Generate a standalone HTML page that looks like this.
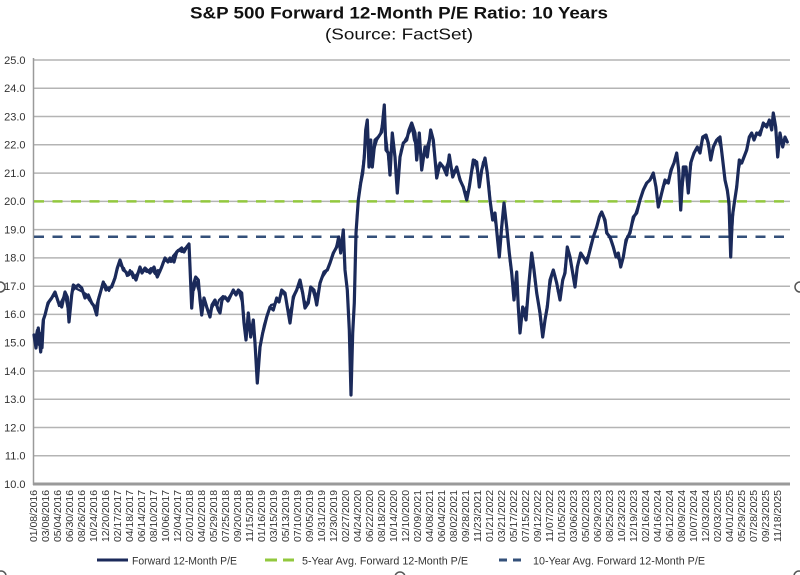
<!DOCTYPE html>
<html>
<head>
<meta charset="utf-8">
<style>
  html, body { margin: 0; padding: 0; background: #ffffff; }
  body { width: 800px; height: 575px; overflow: hidden; }
  svg { display: block; font-family: "Liberation Sans", Arial, sans-serif; }
</style>
</head>
<body>
<svg width="800" height="575" viewBox="0 0 800 575" xmlns="http://www.w3.org/2000/svg">
  <rect x="0" y="0" width="800" height="575" fill="#ffffff"/>

  <!-- Title -->
  <text x="190" y="18.3" font-size="17" font-weight="bold" fill="#111" textLength="418" lengthAdjust="spacingAndGlyphs">S&amp;P 500 Forward 12-Month P/E Ratio: 10 Years</text>
  <text x="325" y="39.5" font-size="16" fill="#111" textLength="148" lengthAdjust="spacingAndGlyphs">(Source: FactSet)</text>

  <!-- Gridlines -->
  <g stroke="#b4b4b4" stroke-width="1.5">
    <line x1="33" y1="60" x2="790" y2="60"/>
    <line x1="33" y1="88.3" x2="790" y2="88.3"/>
    <line x1="33" y1="116.5" x2="790" y2="116.5"/>
    <line x1="33" y1="144.8" x2="790" y2="144.8"/>
    <line x1="33" y1="173.1" x2="790" y2="173.1"/>
    <line x1="33" y1="201.4" x2="790" y2="201.4"/>
    <line x1="33" y1="229.6" x2="790" y2="229.6"/>
    <line x1="33" y1="257.9" x2="790" y2="257.9"/>
    <line x1="33" y1="286.2" x2="790" y2="286.2"/>
    <line x1="33" y1="314.4" x2="790" y2="314.4"/>
    <line x1="33" y1="342.7" x2="790" y2="342.7"/>
    <line x1="33" y1="371" x2="790" y2="371"/>
    <line x1="33" y1="399.2" x2="790" y2="399.2"/>
    <line x1="33" y1="427.5" x2="790" y2="427.5"/>
    <line x1="33" y1="455.8" x2="790" y2="455.8"/>
  </g>
  <!-- Axes -->
  <line x1="33.5" y1="58" x2="33.5" y2="485" stroke="#9a9a9a" stroke-width="1.5"/>
  <line x1="33" y1="484" x2="790" y2="484" stroke="#9a9a9a" stroke-width="3"/>

  <!-- Y labels -->
  <g font-size="11" fill="#333" text-anchor="end">
    <text x="25.5" y="63.8">25.0</text>
    <text x="25.5" y="92.1">24.0</text>
    <text x="25.5" y="120.3">23.0</text>
    <text x="25.5" y="148.6">22.0</text>
    <text x="25.5" y="176.9">21.0</text>
    <text x="25.5" y="205.2">20.0</text>
    <text x="25.5" y="233.4">19.0</text>
    <text x="25.5" y="261.7">18.0</text>
    <text x="25.5" y="290">17.0</text>
    <text x="25.5" y="318.2">16.0</text>
    <text x="25.5" y="346.5">15.0</text>
    <text x="25.5" y="374.8">14.0</text>
    <text x="25.5" y="403">13.0</text>
    <text x="25.5" y="431.3">12.0</text>
    <text x="25.5" y="459.6">11.0</text>
    <text x="25.5" y="487.8">10.0</text>
  </g>

  <!-- Average lines -->
  <line x1="34" y1="201.4" x2="790" y2="201.4" stroke="#92c83e" stroke-width="2.5" stroke-dasharray="10 8.5"/>
  <line x1="34" y1="236.7" x2="790" y2="236.7" stroke="#34507a" stroke-width="2.5" stroke-dasharray="10 8.5"/>

  <!-- Series -->
  <g fill="none" stroke="#1b2a5a" stroke-linejoin="round" stroke-linecap="round">
  <polyline stroke-width="3.2" points="
34,335 36,348 38.3,328 40.7,352 43.3,320 45,315 48,303 51.7,298 55,292 58.3,302 61.7,307 65,292 67.3,297 69,322 71.7,295 73.3,285 76,287 78.3,285 81.7,288 85,298 88.3,295 91.7,303 94,306 96.7,315 98.3,300 103.3,282 106,290 108.3,288 111.7,287 115,278 117.3,268 120,260 123.3,270 126,272 128.3,275 131.7,272 136,280 140,267 142,273 145,268 150,273 154,267 157.3,277 161.7,267 165,258 168,262 170,258 174,262 176.7,252 181.7,248 184,252 186.7,247 189,244 190,267 191.7,308 193.3,285 195.7,277 198.3,280 200,300 201.7,315 204,298 206.7,307 210,317 212,305 215,300 218.3,310
220,313 222,300 225,297 228,301 230,297 233.3,290 236,295 238.3,290 241.7,293 244,323 246,340 248.3,313 250.7,337 253.3,320 255,343 257.3,383 260,347 262.7,333 266.7,317 270,307 273.3,310 276.7,298 279,302 281.7,290 285,293 287.3,307 290,323 293.3,297 296.7,290 300,280 302.7,293 305,308 308.3,303 310.7,287 314,290 316.7,305 320,283 324,272 327.3,270 330,263 333.3,253 336.7,247 338.7,237 340.7,253 343.3,230 345,270 347.3,290 349.3,330 351,395 352.7,333 354.3,303 356,233 358.3,200 360.7,183 362.7,173 364.3,157 365.7,130 367.3,120 369,167 370.7,140 372.3,167 375,140 378.3,137 381.7,132 384.3,105 386,150 388.3,153 390,175 392.3,133 395,157 397.3,193 400,157 403.3,143 406.7,140 409,130 411.7,123 415,133 416.7,160 419.3,133
421.7,170 425,147 427.3,157 430.7,130 433.3,140 436.7,178 440,163 443.3,167 446.7,175 449.3,155 452.7,177 456.7,167 460,180 463.3,187 466.7,200 469.3,187 473.3,160 476.7,162 479.3,187 481.7,170 485,158 487.3,173 490,200 492.7,220 495,213 497.3,237 499.3,257 501.7,227 504,203 506.7,227 509.3,253 511.7,273 514,300 516.7,272 518.3,307 520,333 522.7,307 526,320 528.3,290 531.7,253 534,270 536.7,293 540,313 542.7,337 545,320 547.3,307 550,280 553.3,270 556.7,283 560,300 562.7,280 565,273 567.3,247 570,257 572.7,273 575,287 577.3,267 580.7,253 583.3,257 586.7,263 590,250 593.3,237 596.7,227 599.3,217 601.7,212 605,220
606.7,233 610,237 613.3,247 616,257 618.3,253 620.7,267 623.3,257 626,240 630,233 633.3,217 636.7,213 640,200 643.3,190 646.7,183 650,180 653.3,173 656,187 658.3,207 661.7,193 665,180 668.3,183 671,170 674,163 676.7,153 678.7,170 680.7,210 683.3,167 686,167 688.3,193 690.7,163 694,153 697.3,147 700,153 702.7,137 706,135 708.3,143 710.7,160 713.3,147 716.7,140 720,137 722.7,160 725,180 727.3,190 729,203 730.7,257 732.3,217 734.3,203 736.7,187 739.3,160 741.7,163 744,157 746.7,150 749.3,137 751.7,133 754,140 756.7,133 760,135 763.3,123 766.7,127 769.3,120 771.7,130 773.3,113 775.7,127 777.7,157 780,133 782.7,147 785,137 787.3,142"/>
  <!-- secondary jitter traces for thickness/noise -->
  <polyline stroke-width="2.2" points="
35,340 37,330 39,345 41,333 42.5,348 44,318 47,308 50,300 53,296 56,296 59,306 62,300 64,296 66,300 68,310 70,305 72,292 75,288 79,290 83,292 86,294 89,300 93,305 95,310 99,296 102,288 105,284 109,291 113,282 116,274 119,264 121,266 124,268 127,276 130,270 133,278 137,274 139,270 143,270 147,272 151,268 155,274 158,270 160,272 163,262 167,260 171,262 173,256 178,250 182,252 185,248 188,246"/>
  <polyline stroke-width="2.2" points="
194,290 196,282 199,292 202,305 205,302 208,312 211,310 214,304 217,306 219,300
223,296 227,300 231,294 235,292 239,292 243,305 245,330 247,325 249,330 252,330 254,332 256,360 258,370 261,340 264,325 268,312 271,305 275,304 278,300 283,292 286,298 289,315 292,305 295,294 298,286 301,288 304,300 307,305 309,295 312,288 315,298 318,292 322,278 326,272 329,266 332,258 335,250 337,244 339,245 342,240 344,250"/>
  <polyline stroke-width="2.2" points="
355,260 357,215 359,192 361,178 363,165 365,145 366.5,128 368,145 371,150 374,150 377,140 380,135 383,120 385,128 387,145 389,165 391,150 393,140 396,170 398,180 401,150 405,140 408,135 412,128 414,140 417,148 418,140
420,150 423,160 426,150 429,140 432,134 435,160 438,170 441,165 445,170 448,162 451,168 454,172 458,172 462,184 465,192 468,192 471,175 475,160 478,175 480,180 483,162 486,165 489,185 491,210 494,218 496,225 498,245 500,240 503,212 505,215 508,240 510,262 513,285 515,285 517,290 519,320 521,320 524,312 527,305 530,270 533,262 535,282 538,300 541,325 544,328 546,312 549,292 552,275 555,275 558,292 561,290 564,276 566,260 569,252 571,265 574,280 576,276 579,260 582,255 585,260 588,256 591,244 595,232 598,222 600,214 603,216
608,235 612,242 615,252 617,256 619,260 622,262 625,248 628,236 632,225 635,215 638,206 642,195 645,186 648,182 652,176 655,180 657,198 660,200 663,186 667,182 670,176 673,166 675,158 677.7,160 679.7,190 682,190 685,167 687,180 689.5,178 692,158 696,150 699,150 701,145 704,136 707,140 709.5,152 712,154 715,143 718,138 721,148 724,170 726,185 728,196 730,230 731.5,240 733.5,210 735.5,195 738,172 740.5,162 743,160 745.5,153 748,143 750.5,135 753,137 755.5,136 758,134 762,128 765,125 768,123 770.5,125 772.5,120 774.5,120 776.7,142 779,145 781.5,140 784,142 786.5,140"/>
  </g>

  <!-- X labels -->
  <g font-size="10" fill="#333" text-anchor="end">
    <text transform="translate(37.2,490) rotate(-90)" textLength="52" lengthAdjust="spacingAndGlyphs">01/08/2016</text>
    <text transform="translate(49.2,490) rotate(-90)" textLength="52" lengthAdjust="spacingAndGlyphs">03/08/2016</text>
    <text transform="translate(61.2,490) rotate(-90)" textLength="52" lengthAdjust="spacingAndGlyphs">05/04/2016</text>
    <text transform="translate(73.2,490) rotate(-90)" textLength="52" lengthAdjust="spacingAndGlyphs">06/30/2016</text>
    <text transform="translate(85.2,490) rotate(-90)" textLength="52" lengthAdjust="spacingAndGlyphs">08/26/2016</text>
    <text transform="translate(97.2,490) rotate(-90)" textLength="52" lengthAdjust="spacingAndGlyphs">10/24/2016</text>
    <text transform="translate(109.2,490) rotate(-90)" textLength="52" lengthAdjust="spacingAndGlyphs">12/20/2016</text>
    <text transform="translate(121.2,490) rotate(-90)" textLength="52" lengthAdjust="spacingAndGlyphs">02/17/2017</text>
    <text transform="translate(133.2,490) rotate(-90)" textLength="52" lengthAdjust="spacingAndGlyphs">04/18/2017</text>
    <text transform="translate(145.2,490) rotate(-90)" textLength="52" lengthAdjust="spacingAndGlyphs">06/14/2017</text>
    <text transform="translate(157.2,490) rotate(-90)" textLength="52" lengthAdjust="spacingAndGlyphs">08/10/2017</text>
    <text transform="translate(169.2,490) rotate(-90)" textLength="52" lengthAdjust="spacingAndGlyphs">10/06/2017</text>
    <text transform="translate(181.2,490) rotate(-90)" textLength="52" lengthAdjust="spacingAndGlyphs">12/04/2017</text>
    <text transform="translate(193.2,490) rotate(-90)" textLength="52" lengthAdjust="spacingAndGlyphs">02/01/2018</text>
    <text transform="translate(205.2,490) rotate(-90)" textLength="52" lengthAdjust="spacingAndGlyphs">04/02/2018</text>
    <text transform="translate(217.2,490) rotate(-90)" textLength="52" lengthAdjust="spacingAndGlyphs">05/29/2018</text>
    <text transform="translate(229.2,490) rotate(-90)" textLength="52" lengthAdjust="spacingAndGlyphs">07/25/2018</text>
    <text transform="translate(241.2,490) rotate(-90)" textLength="52" lengthAdjust="spacingAndGlyphs">09/20/2018</text>
    <text transform="translate(253.2,490) rotate(-90)" textLength="52" lengthAdjust="spacingAndGlyphs">11/15/2018</text>
    <text transform="translate(265.2,490) rotate(-90)" textLength="52" lengthAdjust="spacingAndGlyphs">01/16/2019</text>
    <text transform="translate(277.2,490) rotate(-90)" textLength="52" lengthAdjust="spacingAndGlyphs">03/15/2019</text>
    <text transform="translate(289.2,490) rotate(-90)" textLength="52" lengthAdjust="spacingAndGlyphs">05/13/2019</text>
    <text transform="translate(301.2,490) rotate(-90)" textLength="52" lengthAdjust="spacingAndGlyphs">07/10/2019</text>
    <text transform="translate(313.2,490) rotate(-90)" textLength="52" lengthAdjust="spacingAndGlyphs">09/05/2019</text>
    <text transform="translate(325.2,490) rotate(-90)" textLength="52" lengthAdjust="spacingAndGlyphs">10/31/2019</text>
    <text transform="translate(337.2,490) rotate(-90)" textLength="52" lengthAdjust="spacingAndGlyphs">12/30/2019</text>
    <text transform="translate(349.2,490) rotate(-90)" textLength="52" lengthAdjust="spacingAndGlyphs">02/27/2020</text>
    <text transform="translate(361.2,490) rotate(-90)" textLength="52" lengthAdjust="spacingAndGlyphs">04/24/2020</text>
    <text transform="translate(373.2,490) rotate(-90)" textLength="52" lengthAdjust="spacingAndGlyphs">06/22/2020</text>
    <text transform="translate(385.2,490) rotate(-90)" textLength="52" lengthAdjust="spacingAndGlyphs">08/18/2020</text>
    <text transform="translate(397.2,490) rotate(-90)" textLength="52" lengthAdjust="spacingAndGlyphs">10/14/2020</text>
    <text transform="translate(409.2,490) rotate(-90)" textLength="52" lengthAdjust="spacingAndGlyphs">12/10/2020</text>
    <text transform="translate(421.2,490) rotate(-90)" textLength="52" lengthAdjust="spacingAndGlyphs">02/09/2021</text>
    <text transform="translate(433.2,490) rotate(-90)" textLength="52" lengthAdjust="spacingAndGlyphs">04/08/2021</text>
    <text transform="translate(445.2,490) rotate(-90)" textLength="52" lengthAdjust="spacingAndGlyphs">06/04/2021</text>
    <text transform="translate(457.2,490) rotate(-90)" textLength="52" lengthAdjust="spacingAndGlyphs">08/02/2021</text>
    <text transform="translate(469.2,490) rotate(-90)" textLength="52" lengthAdjust="spacingAndGlyphs">09/28/2021</text>
    <text transform="translate(481.2,490) rotate(-90)" textLength="52" lengthAdjust="spacingAndGlyphs">11/23/2021</text>
    <text transform="translate(493.2,490) rotate(-90)" textLength="52" lengthAdjust="spacingAndGlyphs">01/21/2022</text>
    <text transform="translate(505.2,490) rotate(-90)" textLength="52" lengthAdjust="spacingAndGlyphs">03/21/2022</text>
    <text transform="translate(517.2,490) rotate(-90)" textLength="52" lengthAdjust="spacingAndGlyphs">05/17/2022</text>
    <text transform="translate(529.2,490) rotate(-90)" textLength="52" lengthAdjust="spacingAndGlyphs">07/15/2022</text>
    <text transform="translate(541.2,490) rotate(-90)" textLength="52" lengthAdjust="spacingAndGlyphs">09/12/2022</text>
    <text transform="translate(553.2,490) rotate(-90)" textLength="52" lengthAdjust="spacingAndGlyphs">11/07/2022</text>
    <text transform="translate(565.2,490) rotate(-90)" textLength="52" lengthAdjust="spacingAndGlyphs">01/05/2023</text>
    <text transform="translate(577.2,490) rotate(-90)" textLength="52" lengthAdjust="spacingAndGlyphs">03/06/2023</text>
    <text transform="translate(589.2,490) rotate(-90)" textLength="52" lengthAdjust="spacingAndGlyphs">05/02/2023</text>
    <text transform="translate(601.2,490) rotate(-90)" textLength="52" lengthAdjust="spacingAndGlyphs">06/29/2023</text>
    <text transform="translate(613.2,490) rotate(-90)" textLength="52" lengthAdjust="spacingAndGlyphs">08/25/2023</text>
    <text transform="translate(625.2,490) rotate(-90)" textLength="52" lengthAdjust="spacingAndGlyphs">10/23/2023</text>
    <text transform="translate(637.2,490) rotate(-90)" textLength="52" lengthAdjust="spacingAndGlyphs">12/19/2023</text>
    <text transform="translate(649.2,490) rotate(-90)" textLength="52" lengthAdjust="spacingAndGlyphs">02/16/2024</text>
    <text transform="translate(661.2,490) rotate(-90)" textLength="52" lengthAdjust="spacingAndGlyphs">04/16/2024</text>
    <text transform="translate(673.2,490) rotate(-90)" textLength="52" lengthAdjust="spacingAndGlyphs">06/12/2024</text>
    <text transform="translate(685.2,490) rotate(-90)" textLength="52" lengthAdjust="spacingAndGlyphs">08/09/2024</text>
    <text transform="translate(697.2,490) rotate(-90)" textLength="52" lengthAdjust="spacingAndGlyphs">10/07/2024</text>
    <text transform="translate(709.2,490) rotate(-90)" textLength="52" lengthAdjust="spacingAndGlyphs">12/03/2024</text>
    <text transform="translate(721.2,490) rotate(-90)" textLength="52" lengthAdjust="spacingAndGlyphs">02/03/2025</text>
    <text transform="translate(733.2,490) rotate(-90)" textLength="52" lengthAdjust="spacingAndGlyphs">04/01/2025</text>
    <text transform="translate(745.2,490) rotate(-90)" textLength="52" lengthAdjust="spacingAndGlyphs">05/29/2025</text>
    <text transform="translate(757.2,490) rotate(-90)" textLength="52" lengthAdjust="spacingAndGlyphs">07/28/2025</text>
    <text transform="translate(769.2,490) rotate(-90)" textLength="52" lengthAdjust="spacingAndGlyphs">09/23/2025</text>
    <text transform="translate(781.2,490) rotate(-90)" textLength="52" lengthAdjust="spacingAndGlyphs">11/18/2025</text>
  </g>

  <!-- Legend -->
  <line x1="97" y1="560" x2="128" y2="560" stroke="#1b2a5a" stroke-width="3"/>
  <text x="132" y="564.5" font-size="11" fill="#333" textLength="105" lengthAdjust="spacingAndGlyphs">Forward 12-Month P/E</text>
  <line x1="265" y1="560" x2="277" y2="560" stroke="#92c83e" stroke-width="3"/>
  <line x1="283" y1="560" x2="294" y2="560" stroke="#92c83e" stroke-width="3"/>
  <text x="302" y="564.5" font-size="11" fill="#333" textLength="166" lengthAdjust="spacingAndGlyphs">5-Year Avg. Forward 12-Month P/E</text>
  <line x1="499" y1="560" x2="507" y2="560" stroke="#34507a" stroke-width="3"/>
  <line x1="513" y1="560" x2="521" y2="560" stroke="#34507a" stroke-width="3"/>
  <text x="533" y="564.5" font-size="11" fill="#333" textLength="172" lengthAdjust="spacingAndGlyphs">10-Year Avg. Forward 12-Month P/E</text>

  <!-- Selection handles -->
  <g fill="#ffffff" stroke="#555" stroke-width="1.5">
    <circle cx="0" cy="287" r="5"/>
    <circle cx="800" cy="287" r="5"/>
    <circle cx="1" cy="576" r="5"/>
    <circle cx="400" cy="577" r="5"/>
    <circle cx="799" cy="576" r="5"/>
  </g>
</svg>
</body>
</html>
